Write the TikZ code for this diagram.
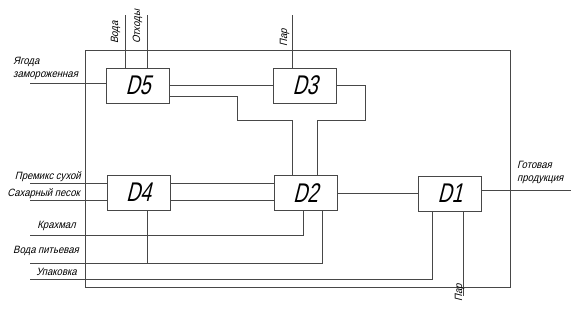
\documentclass[tikz,border=0pt]{standalone}
\usepackage{fontspec}
\newfontfamily\gost[FakeSlant=0.25,FakeStretch=0.9]{Liberation Sans}
\newfontfamily\gostD[FakeSlant=0.25,FakeStretch=0.72]{Liberation Sans}
\begin{document}
\begin{tikzpicture}[x=1pt,y=-1pt,
  ln/.style={line width=0.85pt,draw=black!72},
  blk/.style={ln,rectangle,minimum width=63pt,minimum height=35pt,inner sep=0pt,font=\gostD\fontsize{27}{27}\selectfont},
  lbl/.style={inner sep=0pt,font=\gost\fontsize{10.6}{11}\selectfont}]
\useasboundingbox (0,0) rectangle (573,309);
% frame
\draw[ln] (85,50) rectangle (510,287);
% blocks
\node[blk] (D5) at (138,85.5) {D5};
\node[blk] (D3) at (305,85.5) {D3};
\node[blk] (D4) at (138.5,192.5) {D4};
\node[blk] (D2) at (305.5,193) {D2};
\node[blk] (D1) at (450,193.5) {D1};
% free ends
\coordinate (inY) at (30,83);
\coordinate (vT) at (125,15);
\coordinate (oT) at (147,15);
\coordinate (p3T) at (292,15);
\coordinate (inP) at (30,183);
\coordinate (inS) at (30,200);
\coordinate (inK) at (30,235);
\coordinate (inV) at (30,263);
\coordinate (inU) at (30,279);
\coordinate (outG) at (571,190);
\coordinate (p1B) at (463,296);
% connectors
\draw[ln] (inY) -- (inY -| D5.west);
\draw[ln] (vT) -- (vT |- D5.north);
\draw[ln] (oT) -- (oT |- D5.north);
\draw[ln] (p3T) -- (p3T |- D3.north);
\draw[ln] (D5.east) -- (D3.west);
\draw[ln] ([yshift=-10.5pt]D5.east) -- (237,96) -- (237,120) -| ([xshift=-13.5pt]D2.north);
\draw[ln] (D3.east) -- (365,85.5) -- (365,120) -| ([xshift=11.5pt]D2.north);
\draw[ln] (inP) -- (inP -| D4.west);
\draw[ln] (inS) -- (inS -| D4.west);
\draw[ln] ([yshift=9.5pt]D4.east) -- ([yshift=9.5pt]D4.east -| D2.west);
\draw[ln] ([yshift=-7.5pt]D4.east) -- ([yshift=-7.5pt]D4.east -| D2.west);
\draw[ln] (inK) -| ([xshift=-2.5pt]D2.south);
\draw[ln] (inV) -| ([xshift=16.5pt]D2.south);
\draw[ln] ([xshift=8.5pt]D4.south) -- ([xshift=8.5pt]D4.south |- inV);
\draw[ln] (inU) -| ([xshift=-18pt]D1.south);
\draw[ln] (D2.east) -- (D2.east -| D1.west);
\draw[ln] (D1.east |- outG) -- (outG);
\draw[ln] (p1B |- D1.south) -- (p1B);
% labels
\node[lbl,anchor=base west] (tY1) at (13,64) {Ягода};
\node[lbl,anchor=base west] (tY2) at (13,77) {замороженная};
\node[lbl,anchor=base east] (tP) at (81,179) {Премикс сухой};
\node[lbl,anchor=base east] (tS) at (80,196) {Сахарный песок};
\node[lbl,anchor=base east] (tK) at (76,228) {Крахмал};
\node[lbl,anchor=base east] (tV) at (79,253) {Вода питьевая};
\node[lbl,anchor=base east] (tU) at (77,275) {Упаковка};
\node[lbl,anchor=base west] (tG1) at (517,168) {Готовая};
\node[lbl,anchor=base west] (tG2) at (517,181) {продукция};
\node[lbl,anchor=base west,rotate=90] (tW) at (118,44) {Вода};
\node[lbl,anchor=base west,rotate=90] (tO) at (140,44) {Отходы};
\node[lbl,anchor=base west,rotate=90] (tP3) at (287,47) {Пар};
\node[lbl,anchor=base west,rotate=90] (tP1) at (462,302) {Пар};
\end{tikzpicture}
\end{document}
